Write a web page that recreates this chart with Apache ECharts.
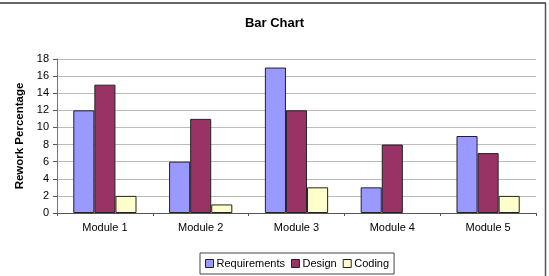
<!DOCTYPE html>
<html>
<head>
<meta charset="utf-8">
<script src="https://cdn.jsdelivr.net/npm/echarts@6/dist/echarts.min.js"></script>
<style>
    html, body { margin: 0; padding: 0; background: #fff; }
    #chart { width: 549px; height: 276px; }
</style>
</head>
<body>
<div id="chart"></div>
<script>
// categories and values
const modules = ['Module 1', 'Module 2', 'Module 3', 'Module 4', 'Module 5'];
const requirements = [12, 6, 17, 3, 9];
const design = [15, 11, 12, 8, 7];
const coding = [2, 1, 3, 0, 2];
const yTicks = { min: 0, max: 18, interval: 2 };

const font = 'Liberation Sans, Arial, sans-serif';

function barSeries(name, data, color) {
    return {
        name: name,
        type: 'bar',
        // a zero bar shows nothing in the original, so drop its outline
        data: data.map(v => v === 0 ? { value: v, itemStyle: { borderWidth: 0 } } : v),
        barGap: '0%',
        barCategoryGap: '34%',
        itemStyle: { color: color, borderColor: '#222', borderWidth: 1 }
    };
}

const chart = echarts.init(document.getElementById('chart'));
chart.setOption({
    animation: false,
    backgroundColor: '#fff',
    title: {
        text: 'Bar Chart',
        left: 'center',
        top: 12,
        textStyle: { fontFamily: font, fontSize: 13, fontWeight: 'bold', color: '#000' }
    },
    grid: { left: 57, right: 13, top: 59, bottom: 63, containLabel: false },
    legend: {
        bottom: 2,
        left: 200,
        itemWidth: 8,
        itemHeight: 8,
        itemGap: 6,
        padding: [5, 5],
        borderColor: '#444',
        borderWidth: 1,
        icon: 'rect',
        textStyle: { fontFamily: font, fontSize: 11, color: '#000', padding: [0, 0, 0, -2] },
        itemStyle: { borderColor: '#222', borderWidth: 1 }
    },
    xAxis: {
        type: 'category',
        data: modules,
        axisLine: { lineStyle: { color: '#555' } },
        axisTick: { show: true, length: 3, lineStyle: { color: '#555' } },
        axisLabel: { fontFamily: font, fontSize: 11, color: '#000', margin: 9 }
    },
    yAxis: {
        type: 'value',
        min: yTicks.min,
        max: yTicks.max,
        interval: yTicks.interval,
        name: 'Rework Percentage',
        nameLocation: 'middle',
        nameGap: 28,
        nameTextStyle: { fontFamily: font, fontSize: 11.5, fontWeight: 'bold', color: '#000' },
        axisLine: { show: true, lineStyle: { color: '#777' } },
        axisTick: { show: true, length: 4, lineStyle: { color: '#555' } },
        axisLabel: { fontFamily: font, fontSize: 11, color: '#000', margin: 8 },
        splitLine: { lineStyle: { color: '#bcbcbc' } }
    },
    // frame lines at the top and right edge
    graphic: [
        { type: 'line', shape: { x1: 0, y1: 3, x2: 546, y2: 3 }, style: { stroke: '#333', lineWidth: 1.5 } },
        { type: 'line', shape: { x1: 545.5, y1: 3, x2: 545.5, y2: 276 }, style: { stroke: '#555', lineWidth: 1.5 } }
    ],
    series: [
        barSeries('Requirements', requirements, '#9999FF'),
        barSeries('Design', design, '#993366'),
        barSeries('Coding', coding, '#FFFFCC')
    ]
});
</script>
</body>
</html>
